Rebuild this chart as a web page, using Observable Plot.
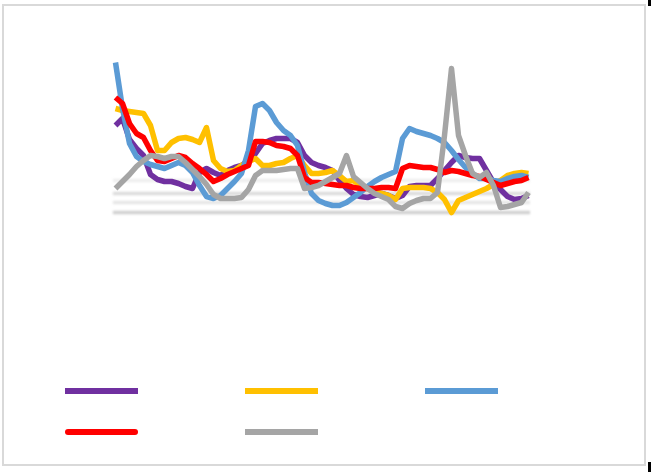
<!DOCTYPE html>
<html>
<head>
<meta charset="utf-8">
<script src="https://cdn.jsdelivr.net/npm/d3@7"></script>
<script src="https://cdn.jsdelivr.net/npm/@observablehq/plot@0.6"></script>
<style>
  html, body { margin: 0; padding: 0; background: #fff; }
  #wrap { position: relative; width: 651px; height: 472px; overflow: hidden; font-family: "Liberation Sans", Arial, sans-serif; }
  #frame { position: absolute; left: 2px; top: 4px; width: 640px; height: 458px; border: 2px solid #d9d9d9; }
  .corner { position: absolute; left: 648px; width: 3px; background: #000; }
  #chart { position: absolute; left: 0; top: 0; }
  #chart g[aria-label="rule"] { filter: blur(1.2px); }
  .leg { position: absolute; width: 73px; height: 6px; }
</style>
</head>
<body>
<div id="wrap">
  <div id="frame"></div>
  <div class="corner" style="top:0;height:6px"></div>
  <div class="corner" style="top:462px;height:10px"></div>
  <div id="chart"></div>
  <div id="legend"></div>
</div>
<script>
const seriesNames = ["Series 1", "Series 2", "Series 3", "Series 4", "Series 5"];
const seriesColors = ["#7030A0", "#FFC000", "#5B9BD5", "#FF0000", "#A5A5A5"];

const purple = [90,97,76,67,60,41,36,34,34,32, 29,27,43,47,43,40,45,48,50,55, 62,72,75,77,77,77,73,60,53,50, 48,45,35,27,21,19,18,20,22,20, 17,20,29,30,30,30,37,45,53,60, 58,57,57,45,33,26,19,16,17,20];
const yellow = [107,105,104,103,102,90,65,65,73,77, 78,76,73,88,55,47,44,45,50,54, 57,50,50,52,53,57,60,50,42,42, 43,45,40,34,35,29,27,24,22,20, 16,27,28,28,28,27,23,16,3,15, 18,21,24,27,31,35,40,42,43,42];
const blue = [153,107,72,59,54,51,49,47,50,53, 50,43,30,19,17,20,27,34,42,65, 109,112,105,93,85,80,70,43,22,15, 12,10,10,13,18,23,29,34,38,41, 44,77,87,84,82,80,77,73,65,56, 48,42,37,37,35,34,37,39,40,38];
const red = [118,112,92,82,78,65,55,54,57,60, 58,52,47,41,34,37,41,44,47,50, 74,74,73,70,69,67,60,38,33,33, 32,31,30,30,28,27,27,27,28,28, 27,47,50,49,48,48,46,43,45,44, 42,40,39,36,33,30,32,34,35,38];
const gray = [27,34,41,49,55,60,59,57,59,59, 53,46,39,31,21,17,17,17,18,26, 40,45,45,45,46,47,47,27,28,30, 34,38,42,60,39,33,27,22,19,16, 9,7,12,15,17,17,23,80,147,80, 60,42,38,43,30,8,9,11,13,23];

const gridValues = [35, 22, 13, 3];
const gridColors = ["#eeeeee", "#dcdcdc", "#e6e6e6", "#d0d0d0"];

const allSeries = [purple, yellow, blue, red, gray];
const data = [];
allSeries.forEach((vals, s) => vals.forEach((v, i) => data.push({series: seriesNames[s], i, v})));
const grid = gridValues.map((v, k) => ({v, c: gridColors[k]}));

const chart = Plot.plot({
  width: 651,
  height: 472,
  marginLeft: 115,
  marginRight: 123,
  marginTop: 60,
  marginBottom: 257,
  x: {domain: [0, 59], axis: null},
  y: {domain: [0, 155], axis: null},
  color: {domain: seriesNames, range: seriesColors},
  marks: [
    Plot.ruleY(grid, {y: "v", stroke: "c", strokeWidth: 3.5, x1: -0.3, x2: 59.3}),
    Plot.line(data, {x: "i", y: "v", z: "series", stroke: "series", strokeWidth: 5.5, strokeLinejoin: "round", strokeLinecap: "butt"})
  ]
});
document.getElementById("chart").appendChild(chart);

// legend (no labels in the reference)
const legPos = [[65, 388], [245, 388], [425, 388], [65, 429], [245, 429]];
const legend = document.getElementById("legend");
seriesColors.forEach((c, k) => {
  const d = document.createElement("div");
  d.className = "leg";
  d.style.left = legPos[k][0] + "px";
  d.style.top = legPos[k][1] + "px";
  d.style.background = c;
  if (k === 3) d.style.borderRadius = "3px";
  legend.appendChild(d);
});
</script>
</body>
</html>
